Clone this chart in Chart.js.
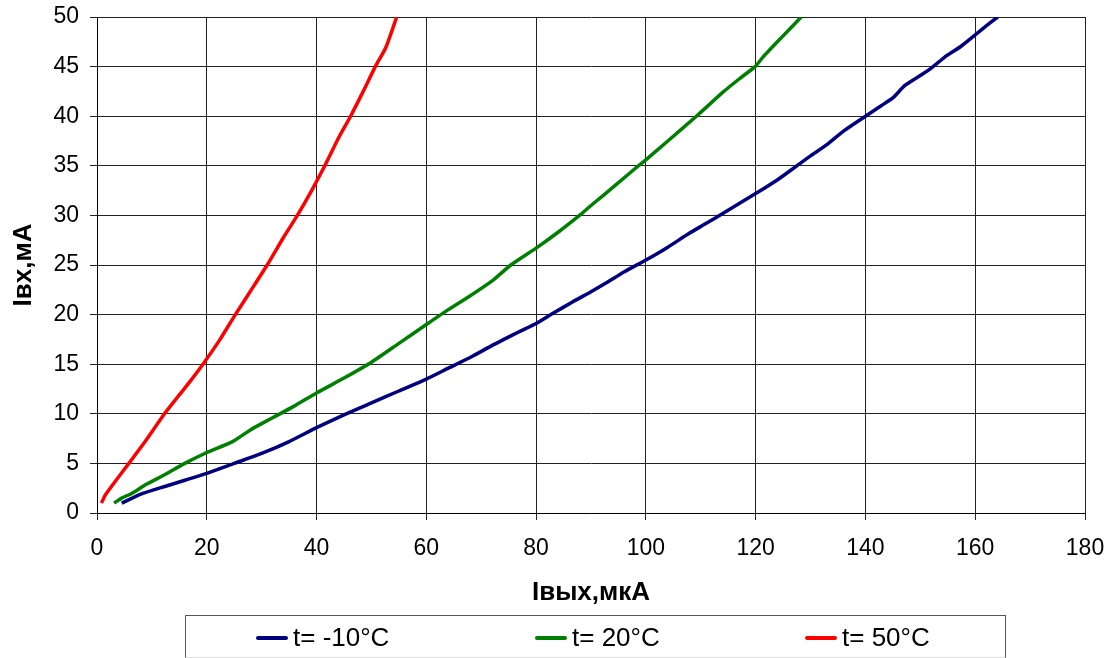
<!DOCTYPE html>
<html>
<head>
    <title>Iвх vs Iвых</title>
    <script src="https://cdn.jsdelivr.net/npm/chart.js"></script>
    <style>
        body {
            margin: 0;
            background: white;
            font-family: "Liberation Sans", Arial, sans-serif;
        }
        .wrap {
            position: relative;
            width: 1115px;
            height: 658px;
            overflow: hidden;
        }
        .legend {
            position: absolute;
            left: 185px;
            top: 615px;
            width: 821px;
            height: 43px;
            border: 1px solid #555;
            border-bottom-color: #ddd;
            box-sizing: border-box;
        }
        .legend .item {
            position: absolute;
            top: 6px;
            font-size: 26px;
            line-height: 30px;
            white-space: nowrap;
        }
        .legend .swatch {
            display: inline-block;
            width: 32px;
            height: 4px;
            border-radius: 2px;
            vertical-align: middle;
            margin-right: 5px;
            position: relative;
            top: -1px;
        }
    </style>
</head>
<body>
    <div class="wrap">
        <canvas id="myChart" width="1115" height="658"></canvas>
        <div class="legend" id="legend"></div>
    </div>
    <script>
        // values
        const seriesLabels = ['t= -10°C', 't= 20°C', 't= 50°C'];
        const seriesColors = ['#000080', '#008000', '#ff0000'];

        const coldX = [4.5, 8, 12.5, 16, 20, 25, 30, 35, 40, 45, 50, 55, 60, 64, 68.4, 72, 74.5, 77, 80, 83, 86.7, 90, 92.8, 96, 100, 104, 107.9, 111, 114, 117, 120, 124, 127.5, 130, 132.9, 136, 140, 143, 145.1, 147.2, 150, 152.1, 154.8, 157.3, 160, 162, 164.1];
        const coldY = [1.0, 1.9, 2.7, 3.3, 4.0, 5.0, 6.0, 7.2, 8.6, 9.9, 11.1, 12.3, 13.5, 14.6, 15.8, 16.9, 17.6, 18.3, 19.1, 20.1, 21.3, 22.3, 23.2, 24.3, 25.5, 26.8, 28.2, 29.2, 30.2, 31.2, 32.2, 33.6, 35.0, 36.0, 37.1, 38.5, 40.0, 41.1, 41.9, 43.1, 44.1, 44.9, 46.1, 47.0, 48.2, 49.1, 50.0];

        const roomX = [3.1, 4.5, 6.4, 9, 12.5, 16, 20, 24.7, 28, 32, 36, 40, 45, 50, 55, 60, 64, 68, 72, 75.4, 80, 84, 87.9, 90, 92.2, 95, 98.2, 100, 104, 109.2, 114, 117.1, 119.9, 121.4, 125, 128.3];
        const roomY = [1.0, 1.5, 2.0, 2.9, 3.9, 5.0, 6.1, 7.2, 8.4, 9.6, 10.8, 12.1, 13.6, 15.2, 17.1, 19.0, 20.5, 21.9, 23.4, 25.0, 26.7, 28.3, 30.0, 31.0, 32.0, 33.3, 34.8, 35.6, 37.5, 40.0, 42.4, 43.8, 45.0, 46.0, 48.1, 50.0];

        const hotX = [0.8, 1.5, 2.8, 5.8, 8.5, 12.3, 15, 17, 19.3, 22.3, 25.2, 28, 31, 34, 36.5, 39, 41.5, 44, 46.2, 48.5, 50.7, 52.6, 54.6];
        const hotY = [1.0, 1.8, 2.8, 5.0, 7.0, 10.0, 11.9, 13.3, 15.0, 17.4, 20.0, 22.4, 25.0, 27.8, 30.0, 32.4, 35.0, 37.8, 40.0, 42.5, 45.0, 46.9, 50.0];

        const xTitle = 'Iвых,мкА';
        const yTitle = 'Iвх,мА';

        const toPoints = (xs, ys) => xs.map((x, i) => ({x: x, y: ys[i]}));
        const allX = [coldX, roomX, hotX];
        const allY = [coldY, roomY, hotY];

        const datasets = seriesLabels.map((label, i) => ({
            label: label,
            data: toPoints(allX[i], allY[i]),
            showLine: true,
            borderColor: seriesColors[i],
            backgroundColor: seriesColors[i],
            borderWidth: 3.5,
            pointRadius: 0,
            tension: 0.2
        }));

        // legend as html, built from the same labels/colours
        const legendPos = [256, 535, 805];
        const legendEl = document.getElementById('legend');
        seriesLabels.forEach((label, i) => {
            const item = document.createElement('div');
            item.className = 'item';
            item.style.left = (legendPos[i] - 186) + 'px';
            item.innerHTML = '<span class="swatch" style="background:' + seriesColors[i] + '"></span>' + label;
            legendEl.appendChild(item);
        });

        const tickFont = {family: '"Liberation Sans", Arial, sans-serif', size: 23};
        const titleFont = {family: '"Liberation Sans", Arial, sans-serif', size: 26, weight: 'bold'};

        const ctx = document.getElementById('myChart').getContext('2d');
        new Chart(ctx, {
            type: 'scatter',
            data: {
                datasets: datasets
            },
            options: {
                responsive: false,
                animation: false,
                events: [],
                layout: {
                    padding: {left: 0, right: 30, top: 17, bottom: 0}
                },
                plugins: {
                    legend: {display: false},
                    tooltip: {enabled: false}
                },
                scales: {
                    x: {
                        type: 'linear',
                        min: 0,
                        max: 180,
                        ticks: {
                            stepSize: 20,
                            color: '#000',
                            font: tickFont,
                            padding: 15
                        },
                        grid: {
                            color: '#222',
                            lineWidth: 1,
                            tickLength: 7
                        },
                        border: {color: '#000', width: 1},
                        title: {
                            display: true,
                            text: xTitle,
                            color: '#000',
                            font: titleFont,
                            padding: {top: 0, bottom: 50}
                        },
                        afterFit: (scale) => {
                            scale.height = 145;
                            scale.paddingLeft = 0;
                            scale.paddingRight = 0;
                        }
                    },
                    y: {
                        min: 0,
                        max: 50,
                        ticks: {
                            stepSize: 5,
                            color: '#000',
                            font: tickFont,
                            padding: 11
                        },
                        grid: {
                            color: '#222',
                            lineWidth: 1,
                            tickLength: 7
                        },
                        border: {color: '#000', width: 1},
                        title: {
                            display: true,
                            text: yTitle,
                            color: '#000',
                            font: titleFont,
                            padding: {top: 8, bottom: 0}
                        },
                        afterFit: (scale) => {
                            scale.width = 97;
                            scale.paddingTop = 0;
                            scale.paddingBottom = 0;
                        }
                    }
                }
            }
        });
    </script>
</body>
</html>
